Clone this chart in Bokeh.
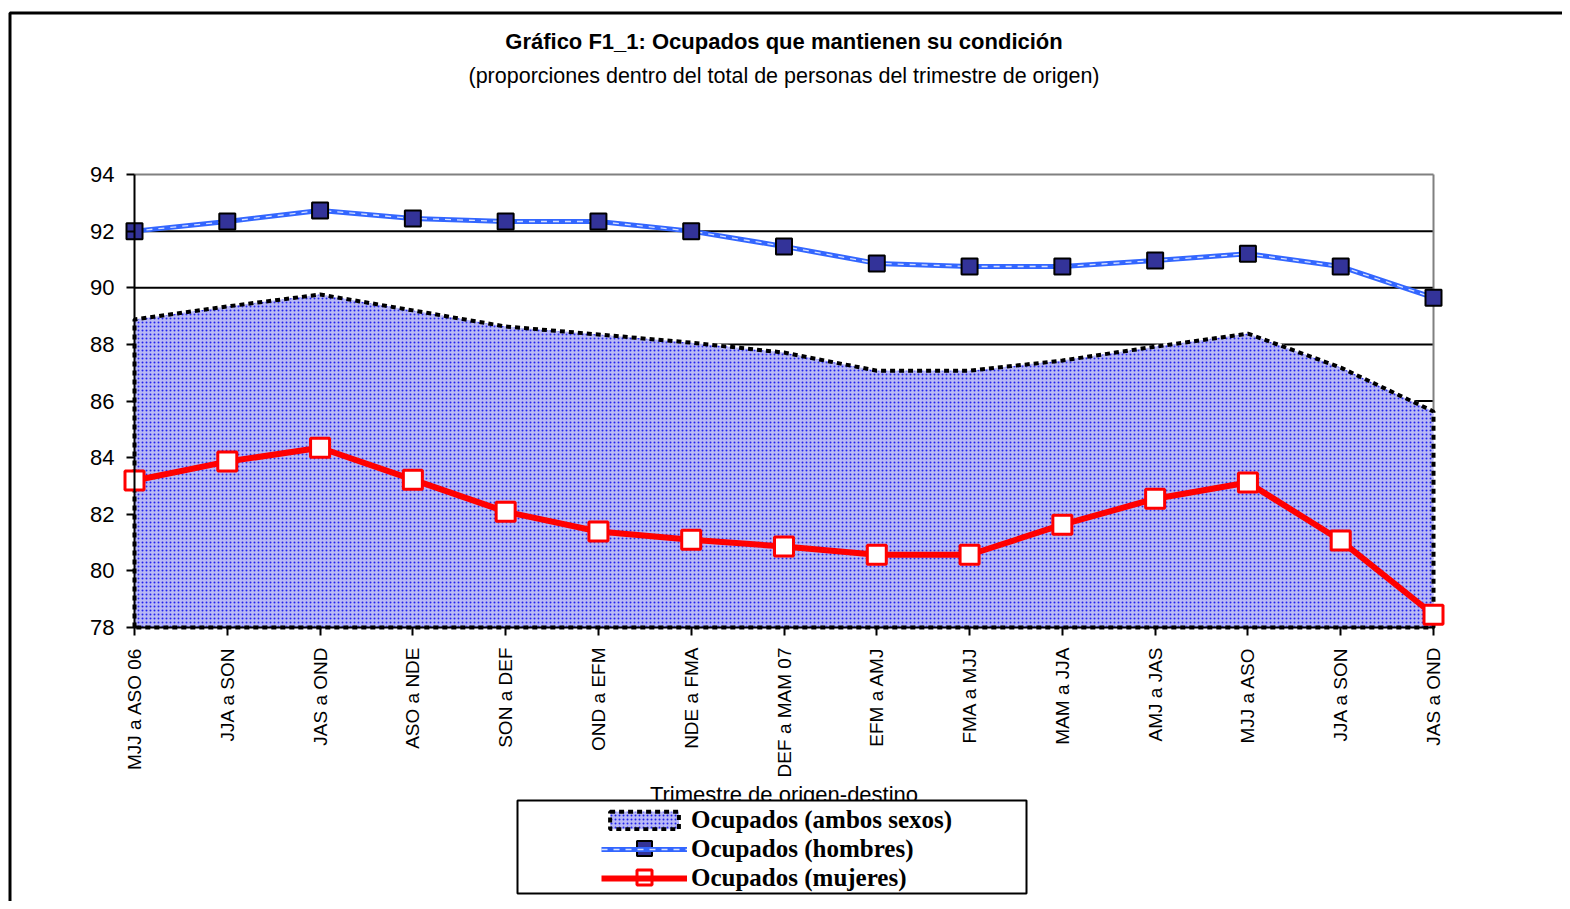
import numpy as np
from bokeh.plotting import figure
from bokeh.models import (Range1d, FixedTicker, Label, Legend, LegendItem,
                          BoxAnnotation)
from bokeh.embed import file_html
from bokeh.resources import INLINE

# ---------------- data ----------------
categories = ["MJJ a ASO 06", "JJA a SON", "JAS a OND", "ASO a NDE", "SON a DEF",
              "OND a EFM", "NDE a FMA", "DEF a MAM 07", "EFM a AMJ", "FMA a MJJ",
              "MAM a JJA", "AMJ a JAS", "MJJ a ASO", "JJA a SON", "JAS a OND"]
ambos = [88.88, 89.34, 89.76, 89.20, 88.63, 88.35, 88.06, 87.71, 87.07, 87.07,
         87.43, 87.92, 88.38, 87.18, 85.63]
hombres = [92.00, 92.34, 92.73, 92.45, 92.34, 92.34, 92.00, 91.46, 90.86, 90.75,
           90.75, 90.96, 91.20, 90.75, 89.65]
mujeres = [83.19, 83.86, 84.35, 83.22, 82.09, 81.39, 81.10, 80.86, 80.57, 80.57,
           81.63, 82.55, 83.12, 81.07, 78.45]
y_ticks = [78, 80, 82, 84, 86, 88, 90, 92, 94]

title_text = "Gráfico F1_1: Ocupados que mantienen su condición"
subtitle_text = "(proporciones dentro del total de personas del trimestre de origen)"
x_title = "Trimestre de origen-destino"
legend_labels = ["Ocupados (ambos sexos)", "Ocupados (hombres)", "Ocupados (mujeres)"]

SANS = "Liberation Sans"
SERIF = "Liberation Serif"

x = list(range(len(categories)))
ymin, ymax = y_ticks[0], y_ticks[-1]
xlast = x[-1]

# ---------------- canvas geometry (pixels) ----------------
CW, CH = 1562, 901
AX_LEFT, AX_RIGHT = 134, 1433     # canvas px of first / last category
AX_TOP, AX_BOTTOM = 174, 627      # canvas px of ymax / ymin
XS = (AX_RIGHT - AX_LEFT) / (xlast - x[0])
YS = (AX_BOTTOM - AX_TOP) / (ymax - ymin)


def dx(px):
    return x[0] + (px - AX_LEFT) / XS


def dy(py):
    return ymax - (py - AX_TOP) / YS


p = figure(width=CW, height=CH, output_backend="svg", toolbar_location=None,
           x_range=Range1d(dx(0), dx(CW)), y_range=Range1d(dy(CH), dy(0)),
           min_border_left=0, min_border_right=0, min_border_top=0,
           min_border_bottom=0)
p.title.visible = False
p.outline_line_color = None
p.background_fill_color = "white"
p.border_fill_color = "white"
p.xgrid.visible = False
p.ygrid.visible = False

# ---------------- plot-area grid and border ----------------
inner = y_ticks[1:-1]
p.segment(x0=[x[0]] * len(inner), x1=[xlast] * len(inner), y0=inner, y1=inner,
          line_color="black", line_width=2, level="underlay")
p.segment(x0=[x[0]], x1=[xlast], y0=[ymax], y1=[ymax],
          line_color="#808080", line_width=2, level="underlay")
p.segment(x0=[xlast], x1=[xlast], y0=[ymin], y1=[ymax],
          line_color="#808080", line_width=2, level="underlay")

# ---------------- area (ambos sexos) ----------------
px = [x[0]] + x + [x[-1]]
py = [ymin] + ambos + [ymin]
area_white = p.patch(px, py, fill_alpha=0, line_color="white", line_width=4)
area = p.patch(px, py, fill_color="#B9B9F5", hatch_pattern=".", hatch_color="#2222EE",
               hatch_scale=4, hatch_weight=1.4, line_color="black", line_width=4,
               line_dash="5 4")

# ---------------- hombres ----------------
H_COLOR, H_FILL = "#3366FF", "#333399"
h_line = p.line(x, hombres, line_color=H_COLOR, line_width=5)
h_line2 = p.line(x, hombres, line_color="white", line_width=1.3, line_dash="6 6",
                 line_alpha=0.8)
h_pts = p.scatter(x, hombres, marker="square", size=16, fill_color=H_FILL,
                  line_color="black", line_width=2)

# ---------------- mujeres ----------------
M_COLOR = "#FF0000"
m_line = p.line(x, mujeres, line_color=M_COLOR, line_width=6)
m_pts = p.scatter(x, mujeres, marker="square", size=19, fill_color="white",
                  line_color=M_COLOR, line_width=3)

# ---------------- axes ----------------
xa = p.xaxis[0]
xa.fixed_location = ymin
xa.ticker = FixedTicker(ticks=x)
xa.major_label_overrides = {i: c for i, c in enumerate(categories)}
xa.major_label_orientation = np.pi / 2
xa.bounds = (x[0], xlast)
xa.axis_line_color = "black"
xa.axis_line_width = 2
xa.major_tick_line_color = "black"
xa.major_tick_line_width = 2
xa.major_tick_out = 8
xa.major_tick_in = 0
xa.minor_tick_line_color = None
xa.major_label_standoff = 12
xa.major_label_text_font = SANS
xa.major_label_text_font_size = "19px"
xa.major_label_text_color = "black"
xa.axis_label = x_title
xa.axis_label_text_font = SANS
xa.axis_label_text_font_size = "22px"
xa.axis_label_text_font_style = "normal"
xa.axis_label_text_color = "black"
xa.axis_label_standoff = 2

ya = p.yaxis[0]
ya.fixed_location = x[0]
ya.ticker = FixedTicker(ticks=y_ticks)
ya.bounds = (ymin, ymax)
ya.axis_line_color = "black"
ya.axis_line_width = 2
ya.major_tick_line_color = "black"
ya.major_tick_line_width = 2
ya.major_tick_out = 8
ya.major_tick_in = 0
ya.minor_tick_line_color = None
ya.major_label_standoff = 12
ya.major_label_text_font = SANS
ya.major_label_text_font_size = "22px"
ya.major_label_text_color = "black"

# ---------------- titles ----------------
xc = (x[0] + xlast) / 2
p.add_layout(Label(x=xc, y=dy(41), text=title_text, text_align="center",
                   text_baseline="alphabetic", text_font=SANS, text_font_style="bold",
                   text_font_size="22px", text_color="black"))
p.add_layout(Label(x=xc, y=dy(75), text=subtitle_text, text_align="center",
                   text_baseline="alphabetic", text_font=SANS, text_font_style="normal",
                   text_font_size="21.5px", text_color="black"))

# ---------------- outer border ----------------
p.add_layout(BoxAnnotation(left=dx(9.5), right=dx(CW + 30), top=dy(12.5), bottom=dy(CH + 30),
                           fill_alpha=0, line_color="black", line_width=3,
                           line_alpha=1))

# ---------------- legend ----------------
p.add_layout(BoxAnnotation(left=dx(517), right=dx(1026), top=dy(800), bottom=dy(893),
                           fill_color="white", fill_alpha=1, line_color="black",
                           line_width=2, line_alpha=1))
LEG_X, LEG_GW = 601, 86
legend = Legend(items=[
    LegendItem(label=legend_labels[0], renderers=[area_white, area]),
    LegendItem(label=legend_labels[1], renderers=[h_line, h_line2]),
    LegendItem(label=legend_labels[2], renderers=[m_line]),
], location=(LEG_X, 9), padding=0, margin=0, spacing=1, glyph_width=LEG_GW,
    glyph_height=22, label_standoff=4, label_text_font=SERIF,
    label_text_font_style="bold", label_text_font_size="25px",
    label_text_color="black",
    background_fill_alpha=0, border_line_alpha=0)
p.add_layout(legend)

# larger legend markers drawn on top of the legend glyphs
leg_cx = dx(LEG_X + LEG_GW / 2)
p.scatter([leg_cx], [dy(848)], marker="square", size=15, fill_color=H_FILL,
          line_color="black", line_width=2, level="overlay")
p.scatter([leg_cx], [dy(877)], marker="square", size=15, fill_color="white",
          line_color=M_COLOR, line_width=3, level="overlay")

open("out.html", "w").write(file_html(p, INLINE))
